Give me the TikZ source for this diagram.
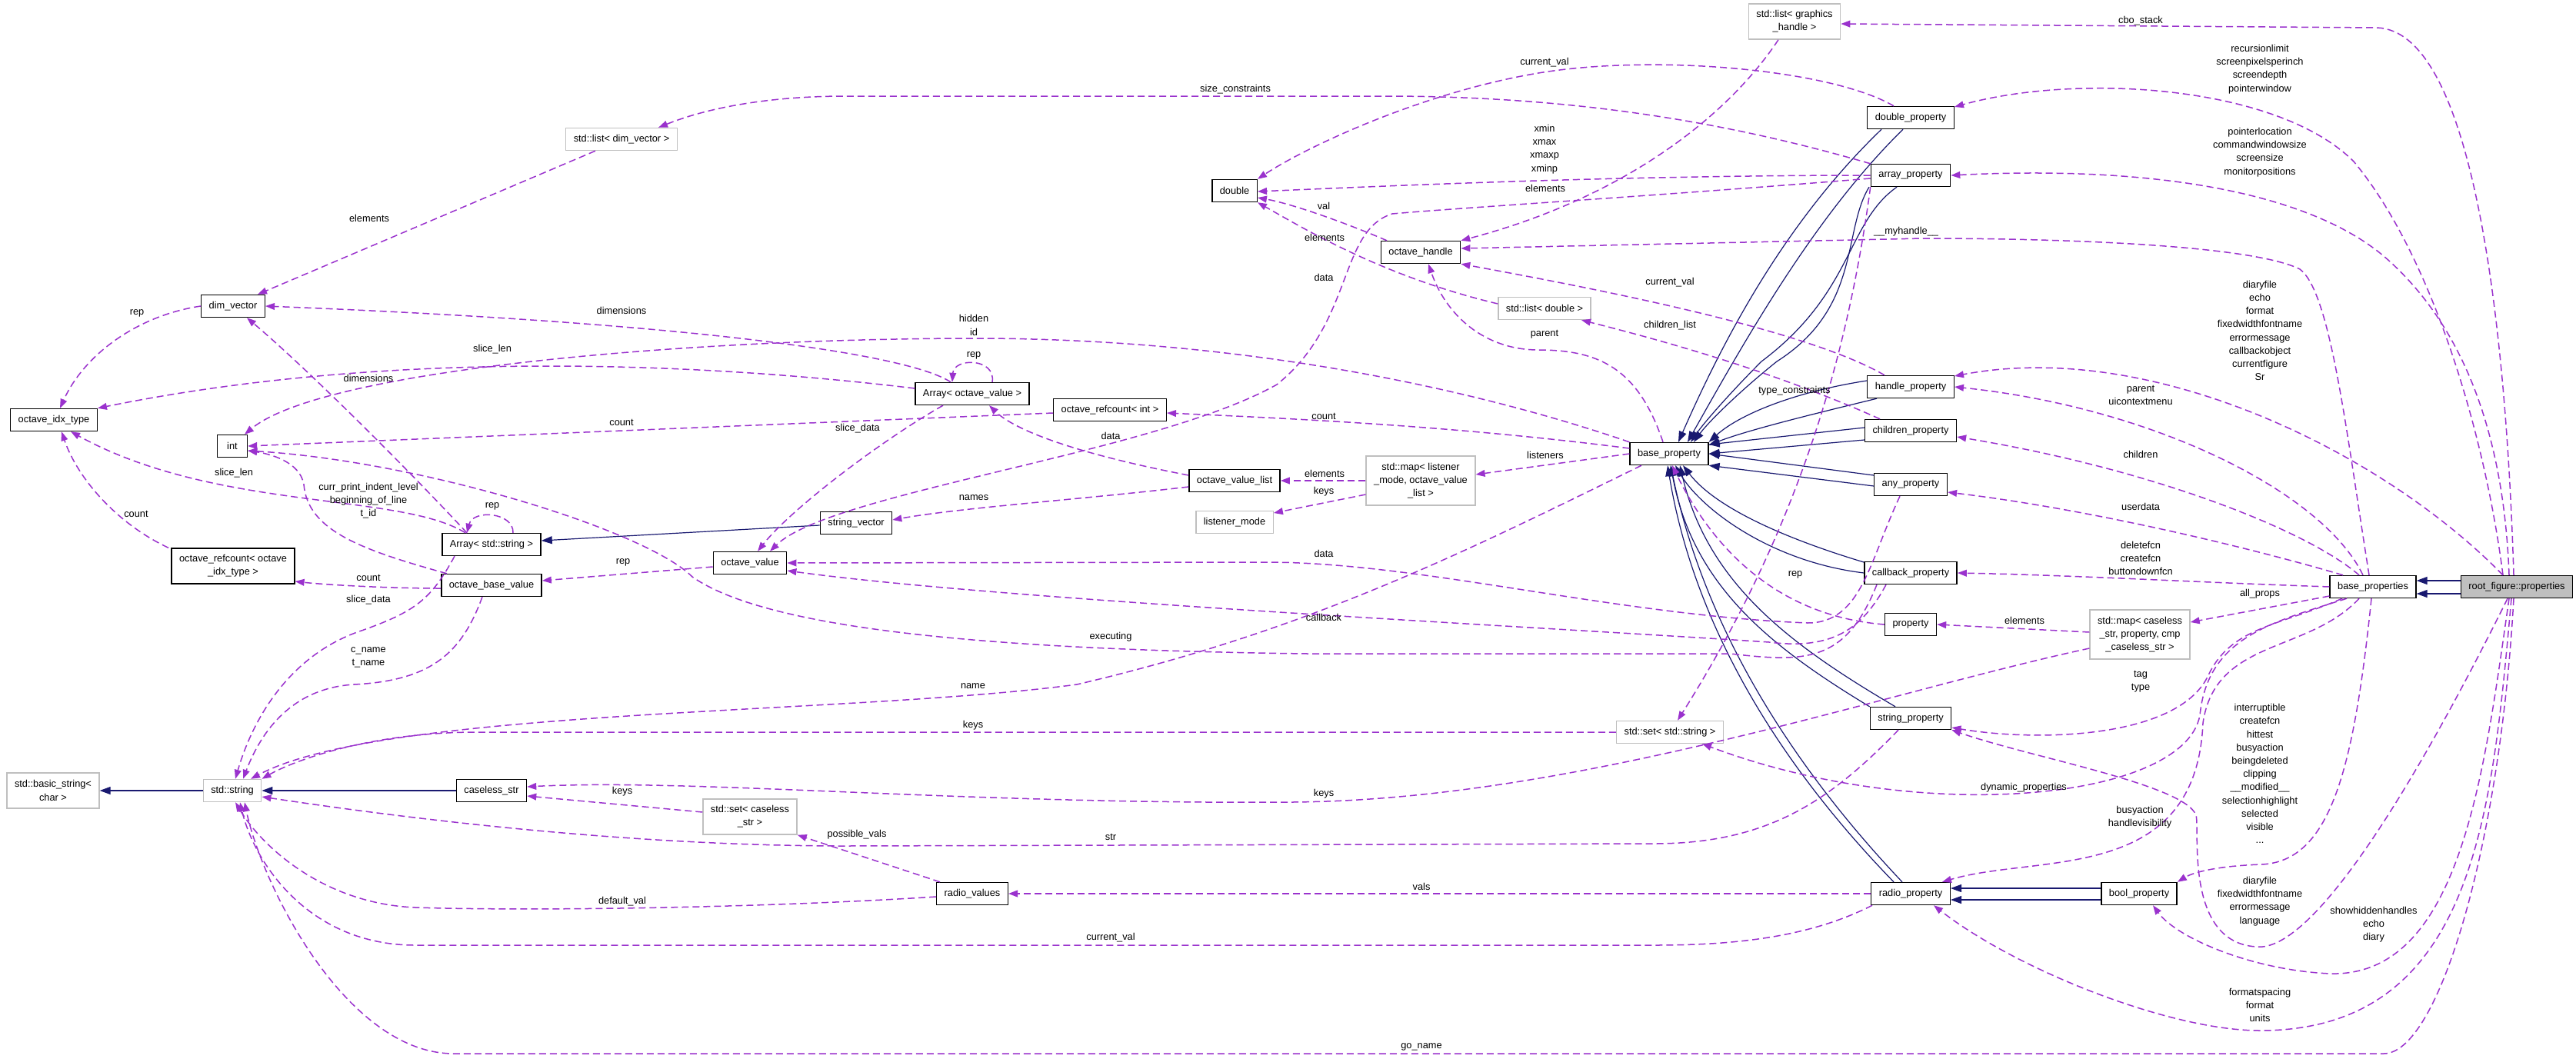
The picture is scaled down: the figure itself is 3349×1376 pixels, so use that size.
\documentclass[tikz,border=0pt]{standalone}
\usepackage{fontspec}
\setmainfont{Liberation Sans}
\usetikzlibrary{arrows.meta}
\definecolor{memcol}{HTML}{9A32CD}
\definecolor{inhcol}{HTML}{191970}
\definecolor{extcol}{HTML}{BFBFBF}
\newcommand{\dfont}{\fontsize{6.4}{8.6}\selectfont}
\tikzset{
  cls/.style={draw,line width=0.7pt,fill=white,inner xsep=5pt,inner ysep=1pt,minimum height=14.5pt,align=center},
  ext/.style={cls,draw=extcol},
  rootcls/.style={cls,fill=extcol},
  member/.style={memcol,line width=0.75pt,dash pattern=on 4.5pt off 2.5pt,-{Triangle[length=6pt,width=4.4pt]}},
  inherit/.style={inhcol,line width=0.6pt,-{Triangle[length=7pt,width=5pt]}},
  lbl/.style={inner sep=0pt,align=center},
  every node/.style={font=\dfont}
}
\begin{document}
\begin{tikzpicture}[x=0.5pt,y=-0.5pt]
\useasboundingbox (0,0) rectangle (3349,1376);

% classes
\node[ext,minimum height=23pt] (glist) at (2333,28) {std::list< graphics\\\_handle >};
\node[cls] (dblprop) at (2484,153) {double\_property};
\node[cls] (arrprop) at (2484,228) {array\_property};
\node[ext] (dimlist) at (808,181) {std::list< dim\_vector >};
\node[cls] (dbl) at (1605,248) {double};
\node[cls] (ohandle) at (1847,328) {octave\_handle};
\node[ext] (dbllist) at (2008,401) {std::list< double >};
\node[cls] (dimv) at (303,398) {dim\_vector};
\node[cls] (idx) at (70,546) {octave\_idx\_type};
\node[cls,minimum width=19.5pt] (intt) at (302,580) {int};
\node[cls] (arrov) at (1264,512) {Array< octave\_value >};
\node[cls] (rcint) at (1443,533) {octave\_refcount< int >};
\node[cls] (ovlist) at (1605,625) {octave\_value\_list};
\node[ext] (lmode) at (1605,679) {listener\_mode};
\node[cls] (svec) at (1113,680) {string\_vector};
\node[cls] (oval) at (975,732) {octave\_value};
\node[cls] (arrstr) at (639,708) {Array< std::string >};
\node[cls,minimum height=23pt] (rcidx) at (303,736) {octave\_refcount< octave\\\_idx\_type >};
\node[cls] (obv) at (639,761) {octave\_base\_value};
\node[cls] (bprop) at (2170,590) {base\_property};
\node[ext,minimum height=32pt] (lmap) at (1847,625) {std::map< listener\\\_mode, octave\_value\\\_list >};
\node[cls] (hprop) at (2484,503) {handle\_property};
\node[cls] (cprop) at (2484,560) {children\_property};
\node[cls] (aprop) at (2484,630) {any\_property};
\node[cls] (cbprop) at (2484,745) {callback\_property};
\node[cls] (prop) at (2484,812) {property};
\node[cls] (bprops) at (3085,763) {base\_properties};
\node[rootcls] (root) at (3272,763) {root\_figure::properties};
\node[ext,minimum height=32pt] (pmap) at (2782,825) {std::map< caseless\\\_str, property, cmp\\\_caseless\_str >};
\node[cls] (sprop) at (2484,934) {string\_property};
\node[ext] (sset) at (2171,952) {std::set< std::string >};
\node[cls] (rprop) at (2484,1162) {radio\_property};
\node[cls] (boolp) at (2781,1162) {bool\_property};
\node[ext,minimum height=23pt] (bstr) at (69,1028) {std::basic\_string<\\char >};
\node[ext] (str) at (302,1028) {std::string};
\node[cls] (cstr) at (639,1028) {caseless\_str};
\node[ext,minimum height=23pt] (cset) at (975,1062) {std::set< caseless\\\_str >};
\node[cls] (rvals) at (1264,1162) {radio\_values};

% inheritance
\draw[inherit] ([yshift=4pt]root.west) -- ([yshift=4pt]bprops.east);
\draw[inherit] ([yshift=-4.5pt]root.west) -- ([yshift=-4.5pt]bprops.east);
\draw[inherit] (str.west) -- (bstr.east);
\draw[inherit] (cstr.west) -- (str.east);
\draw[inherit] ([yshift=-1.5pt]svec.west) -- ([yshift=2.5pt]arrstr.east);
\draw[inherit] ([yshift=3.5pt]boolp.west) -- ([yshift=3.5pt]rprop.east);
\draw[inherit] ([yshift=-4pt]boolp.west) -- ([yshift=-4pt]rprop.east);
\draw[inherit] ([xshift=-19pt]dblprop.south) .. controls (2330,280) and (2250,420) .. ([xshift=6pt]bprop.north);
\draw[inherit] ([xshift=-5pt]dblprop.south) .. controls (2360,280) and (2270,440) .. ([xshift=12pt]bprop.north);
\draw[inherit] ([xshift=-27pt]arrprop.south) .. controls (2395,300) and (2420,400) .. (2310,470) .. controls (2260,510) and (2220,550) .. ([xshift=16pt]bprop.north);
\draw[inherit] ([xshift=-9pt]arrprop.south) .. controls (2400,290) and (2410,380) .. (2290,470) .. controls (2250,510) and (2215,550) .. ([xshift=14pt]bprop.north);
\draw[inherit] ([yshift=4pt]hprop.west) .. controls (2330,510) and (2260,540) .. (bprop.north east);
\draw[inherit] ([xshift=-22pt]hprop.south) .. controls (2350,540) and (2270,560) .. ([yshift=-2pt]bprop.north east);
\draw[inherit] ([yshift=2pt]cprop.west) -- ([yshift=6pt]bprop.east);
\draw[inherit] ([yshift=-6pt]cprop.west) -- (bprop.east);
\draw[inherit] ([yshift=6pt]aprop.west) -- (bprop.east);
\draw[inherit] ([yshift=-1pt]aprop.west) -- (bprop.south east);
\draw[inherit] ([yshift=7pt]cbprop.west) .. controls (2320,700) and (2230,660) .. ([xshift=9pt]bprop.south);
\draw[inherit] (cbprop.west) .. controls (2300,730) and (2210,660) .. ([xshift=4pt]bprop.south);
\draw[inherit] (sprop.north west) .. controls (2300,840) and (2200,760) .. ([xshift=1pt]bprop.south);
\draw[inherit] ([xshift=-10pt]sprop.north) .. controls (2330,840) and (2220,760) .. ([xshift=7pt]bprop.south);
\draw[inherit] ([xshift=-11pt]rprop.north) .. controls (2300,980) and (2200,800) .. ([xshift=-1pt]bprop.south);
\draw[inherit] ([xshift=-5.5pt]rprop.north) .. controls (2315,980) and (2212,800) .. ([xshift=1pt]bprop.south);

% root_figure::properties members
\draw[member] ([xshift=-2pt]root.north) .. controls (3258,420) and (3215,40) .. (3090,36) -- ([yshift=-1.5pt]glist.east);
\draw[member] ([xshift=-9pt]root.north) .. controls (3230,560) and (3160,330) .. (3060,210) .. controls (2960,110) and (2700,95) .. ([yshift=7pt]dblprop.east);
\draw[member] ([xshift=-5pt]root.north) .. controls (3255,560) and (3200,420) .. (3099,333) .. controls (3000,250) and (2800,215) .. (arrprop.east);
\draw[member] ([xshift=-9pt]root.north) .. controls (3100,590) and (2800,440) .. ([yshift=7pt]hprop.east);
\draw[member] ([xshift=-6pt]root.south) .. controls (3150,1000) and (3010,1240) .. (2933,1231) .. controls (2840,1225) and (2860,1080) .. (2855,1060) .. controls (2840,1020) and (2640,985) .. (sprop.south east);
\draw[member] ([xshift=-5pt]root.south) .. controls (3230,1000) and (3200,1270) .. (3030,1266) .. controls (2930,1262) and (2830,1220) .. ([xshift=9pt]boolp.south);
\draw[member] ([xshift=-3.5pt]root.south) .. controls (3240,1050) and (3220,1340) .. (2938,1340) .. controls (2820,1340) and (2620,1260) .. ([xshift=-11pt]rprop.south east);
\draw[member] ([xshift=-2pt]root.south) .. controls (3250,1100) and (3170,1370) .. (3099,1370) -- (590,1370) .. controls (450,1370) and (340,1150) .. ([xshift=8pt]str.south);

% base_properties members
\draw[member] ([xshift=-2.5pt]bprops.north) .. controls (3050,560) and (3030,380) .. (2990,350) .. controls (2930,320) and (2700,310) .. (2500,310) -- ([yshift=2.5pt]ohandle.east);
\draw[member] ([xshift=-6.5pt]bprops.north) .. controls (3020,640) and (2800,530) .. (hprop.east);
\draw[member] ([xshift=-9pt]bprops.north) .. controls (3000,690) and (2800,610) .. ([yshift=-4pt]cprop.east);
\draw[member] ([xshift=-19.5pt]bprops.north) .. controls (2900,705) and (2700,660) .. ([yshift=-5pt]aprop.east);
\draw[member] (bprops.west) .. controls (2850,757) and (2700,748) .. (cbprop.east);
\draw[member] ([yshift=-6pt]bprops.west) -- ([yshift=8pt]pmap.east);
\draw[member] ([xshift=-20pt]bprops.south) .. controls (2960,815) and (2900,815) .. (2870,880) .. controls (2830,960) and (2650,965) .. ([yshift=-6pt]sprop.east);
\draw[member] ([xshift=-17pt]bprops.south) .. controls (2950,810) and (2870,830) .. (2860,930) .. controls (2840,1040) and (2500,1075) .. ([xshift=21pt]sset.south);
\draw[member] ([xshift=-9pt]bprops.south) .. controls (3000,850) and (2880,830) .. (2864,940) .. controls (2855,1150) and (2650,1110) .. ([xshift=-5.5pt]rprop.north east);
\draw[member] ([xshift=-1pt]bprops.south) .. controls (3060,1000) and (3030,1120) .. (2940,1124) .. controls (2880,1126) and (2850,1135) .. (boolp.north east);

% property map
\draw[member] ([yshift=1.5pt]pmap.west) -- (prop.east);
\draw[member] ([yshift=-9pt]pmap.west) .. controls (2450,900) and (2050,1040) .. (1680,1043) .. controls (1250,1046) and (900,1012) .. ([yshift=2.5pt]cstr.east);

% base_property members
\draw[member] ([xshift=-4pt]bprop.north) .. controls (2130,480) and (2080,455) .. (2000,455) .. controls (1930,455) and (1880,410) .. ([xshift=5pt]ohandle.south);
\draw[member] (bprop.west) -- ([yshift=4pt]lmap.east);
\draw[member] ([yshift=3.5pt]bprop.west) .. controls (1900,555) and (1700,545) .. ([yshift=-2pt]rcint.east);
\draw[member] (bprop.north west) .. controls (1900,500) and (1600,440) .. (1268,440) .. controls (900,440) and (420,480) .. ([xshift=8pt]intt.north);
\draw[member] ([xshift=-18pt]bprop.south) .. controls (1900,720) and (1700,820) .. (1400,890) .. controls (1100,930) and (500,920) .. ([xshift=12pt]str.north);
\draw[member] (prop.west) .. controls (2300,800) and (2220,700) .. ([xshift=2pt]bprop.south);

% listener map
\draw[member] (lmap.west) -- (ovlist.east);
\draw[member] ([yshift=-9pt]lmap.west) -- ([yshift=6pt]lmode.east);

% property classes
\draw[member] (arrprop.south west) .. controls (2400,480) and (2330,700) .. ([xshift=5pt]sset.north);
\draw[member] (arrprop.west) .. controls (2100,228) and (1800,242) .. ([yshift=-0.5pt]dbl.east);
\draw[member] (arrprop.north west) .. controls (2250,160) and (2050,125) .. (1800,125) -- (1100,125) .. controls (1000,125) and (920,140) .. ([xshift=24pt]dimlist.north);
\draw[member] ([yshift=-2pt]arrprop.west) .. controls (2150,255) and (1900,270) .. (1810,278) .. controls (1740,300) and (1760,420) .. (1660,500) .. controls (1500,590) and (1080,640) .. ([xshift=13pt]oval.north);
\draw[member] ([xshift=-11pt]dblprop.north) .. controls (2380,90) and (2150,70) .. (2000,95) .. controls (1850,120) and (1700,190) .. (dbl.north east);
\draw[member] ([xshift=-17pt]hprop.north) .. controls (2350,430) and (2100,380) .. (ohandle.south east);
\draw[member] ([xshift=-20pt]cprop.north) .. controls (2300,480) and (2150,440) .. ([xshift=24pt]dbllist.south);
\draw[member] ([xshift=-7pt]aprop.south) .. controls (2430,730) and (2420,810) .. (2350,810) .. controls (2100,800) and (1850,732) .. (1650,731) -- (oval.east);
\draw[member] ([xshift=-16pt]cbprop.south) .. controls (2420,820) and (2380,845) .. (2300,835) .. controls (2000,815) and (1300,780) .. ([yshift=-5pt]oval.east);
\draw[member] ([xshift=-22pt]cbprop.south) .. controls (2400,860) and (2350,862) .. (2250,850) -- (1700,850) .. controls (1300,845) and (1000,820) .. (900,750) .. controls (840,690) and (550,600) .. ([yshift=-3pt]intt.east);
\draw[member] ([xshift=-8pt]sprop.south) .. controls (2380,1040) and (2300,1097) .. (2150,1097) -- (1100,1100) .. controls (800,1100) and (500,1060) .. ([yshift=-4pt]str.east);
\draw[member] ([xshift=-25pt]rprop.south) .. controls (2350,1220) and (2250,1229) .. (2150,1229) -- (540,1229) .. controls (400,1229) and (330,1120) .. ([xshift=5pt]str.south);
\draw[member] (rprop.west) -- (rvals.east);

% handles and doubles
\draw[member] ([xshift=-10.5pt]glist.south) .. controls (2240,160) and (2100,260) .. (ohandle.north east);
\draw[member] ([xshift=-22pt]ohandle.north) .. controls (1750,290) and (1680,265) .. ([yshift=-4.5pt]dbl.east);
\draw[member] ([yshift=3pt]dbllist.west) .. controls (1800,360) and (1700,300) .. (dbl.south east);
\draw[member] ([yshift=-2pt]rcint.west) -- (intt.east);

% octave_value family
\draw[member] ([yshift=3.5pt]ovlist.west) .. controls (1400,590) and (1320,560) .. ([xshift=11pt]arrov.south);
\draw[member] ([yshift=-4pt]ovlist.west) .. controls (1400,650) and (1250,660) .. ([yshift=2pt]svec.east);
\draw[member] ([xshift=-14pt]arrov.north) .. controls (1180,460) and (900,420) .. (dimv.east);
\draw[member] ([xshift=13pt]arrov.north) .. controls (1295,465) and (1240,465) .. ([xshift=-13pt]arrov.north);
\draw[member] ([yshift=3.5pt]arrov.west) .. controls (900,470) and (500,455) .. (idx.north east);
\draw[member] ([xshift=-19pt]arrov.south) .. controls (1150,570) and (1030,660) .. ([xshift=5pt]oval.north);
\draw[member] ([yshift=-2.5pt]oval.west) -- ([yshift=3pt]obv.east);
\draw[member] ([xshift=14pt]arrstr.north) .. controls (668,666) and (615,662) .. ([xshift=-16pt]arrstr.north);
\draw[member] ([xshift=-16pt]arrstr.north) .. controls (530,610) and (400,480) .. ([xshift=9pt]dimv.south);
\draw[member] ([xshift=-17pt]arrstr.north) .. controls (520,640) and (280,665) .. ([xshift=11pt]idx.south);
\draw[member] ([xshift=-24pt]arrstr.south) .. controls (560,780) and (540,795) .. (470,820) .. controls (380,850) and (330,930) .. ([xshift=2pt]str.north);
\draw[member] ([xshift=-6pt]obv.south) .. controls (600,850) and (560,885) .. (460,890) .. controls (380,895) and (340,950) .. ([xshift=7pt]str.north);
\draw[member] ([yshift=-2pt]obv.west) .. controls (500,765) and (420,760) .. ([yshift=-10pt]rcidx.east);
\draw[member] ([xshift=-29pt]obv.north) .. controls (470,715) and (400,690) .. (395,630) .. controls (390,600) and (350,590) .. ([yshift=-3pt]intt.east);
\draw[member] ([xshift=-42pt]rcidx.north) .. controls (150,680) and (100,620) .. ([xshift=5pt]idx.south);
\draw[member] (dimv.west) .. controls (180,410) and (110,460) .. ([xshift=4pt]idx.north);
\draw[member] ([xshift=-17pt]dimlist.south) -- ([xshift=16pt]dimv.north);

% strings
\draw[member] (sset.west) -- (620,952) .. controls (480,952) and (380,990) .. (str.north east);
\draw[member] ([yshift=3pt]cset.west) -- ([yshift=-3.5pt]cstr.east);
\draw[member] ([xshift=-21pt]rvals.north) -- (cset.south east);
\draw[member] ([yshift=-2pt]rvals.west) .. controls (1000,1180) and (700,1185) .. (540,1180) .. controls (420,1175) and (340,1100) .. ([xshift=2pt]str.south);

% member labels
\node[lbl] (lcbo) at (2783,27) {cbo\_stack};
\node[lbl] (lrecur) at (2938,90) {recursionlimit\\screenpixelsperinch\\screendepth\\pointerwindow};
\node[lbl] (lpointer) at (2938,198) {pointerlocation\\commandwindowsize\\screensize\\monitorpositions};
\node[lbl] (lmyh) at (2478,301) {\_\_myhandle\_\_};
\node[lbl] (ldiary) at (2938,430) {diaryfile\\echo\\format\\fixedwidthfontname\\errormessage\\callbackobject\\currentfigure\\Sr};
\node[lbl] (lparent) at (2783,514) {parent\\uicontextmenu};
\node[lbl] (lchildren) at (2783,591) {children};
\node[lbl] (luser) at (2783,659) {userdata};
\node[lbl] (lfcn) at (2783,726) {deletefcn\\createfcn\\buttondownfcn};
\node[lbl] (lall) at (2938,772) {all\_props};
\node[lbl] (lpelem) at (2632,807) {elements};
\node[lbl] (ltag) at (2783,886) {tag\\type};
\node[lbl] (lbool) at (2938,1006) {interruptible\\createfcn\\hittest\\busyaction\\beingdeleted\\clipping\\\_\_modified\_\_\\selectionhighlight\\selected\\visible\\...};
\node[lbl] (ldyn) at (2631,1024) {dynamic\_properties};
\node[lbl] (lbusy) at (2782,1063) {busyaction\\handlevisibility};
\node[lbl] (lstrs) at (2938,1172) {diaryfile\\fixedwidthfontname\\errormessage\\language};
\node[lbl] (lshow) at (3086,1202) {showhiddenhandles\\echo\\diary};
\node[lbl] (lfmt) at (2938,1307) {formatspacing\\format\\units};
\node[lbl] (lcur1) at (2008,81) {current\_val};
\node[lbl] (lsize) at (1606,116) {size\_constraints};
\node[lbl] (lxmin) at (2008,194) {xmin\\xmax\\xmaxp\\xminp};
\node[lbl] (lgelem) at (2009,245) {elements};
\node[lbl] (lval) at (1721,268) {val};
\node[lbl] (ldelem) at (1722,309) {elements};
\node[lbl] (ldata1) at (1721,361) {data};
\node[lbl] (lcur2) at (2171,367) {current\_val};
\node[lbl] (lclist) at (2171,423) {children\_list};
\node[lbl] (lpar) at (2008,435) {parent};
\node[lbl] (ltype) at (2333,508) {type\_constraints};
\node[lbl] (lcount1) at (1721,541) {count};
\node[lbl] (llist) at (2009,592) {listeners};
\node[lbl] (lmelem) at (1722,616) {elements};
\node[lbl] (lmkeys) at (1721,639) {keys};
\node[lbl] (ldata2) at (1721,720) {data};
\node[lbl] (lrep1) at (2334,747) {rep};
\node[lbl] (lcb) at (1721,803) {callback};
\node[lbl] (lkeys1) at (1721,1032) {keys};
\node[lbl] (lvals) at (1848,1153) {vals};
\node[lbl] (lgo) at (1848,1361) {go\_name};
\node[lbl] (lhid) at (1266,423) {hidden\\id};
\node[lbl] (lrep2) at (1266,462) {rep};
\node[lbl] (lslice1) at (1115,557) {slice\_data};
\node[lbl] (ldata3) at (1444,567) {data};
\node[lbl] (lnames) at (1266,647) {names};
\node[lbl] (lexec) at (1444,828) {executing};
\node[lbl] (lname) at (1265,892) {name};
\node[lbl] (lkeys2) at (1265,943) {keys};
\node[lbl] (lposs) at (1114,1085) {possible\_vals};
\node[lbl] (lstr) at (1444,1088) {str};
\node[lbl] (lcur3) at (1444,1219) {current\_val};
\node[lbl] (lelem) at (480,284) {elements};
\node[lbl] (lrep3) at (178,407) {rep};
\node[lbl] (ldim1) at (808,404) {dimensions};
\node[lbl] (llen1) at (640,454) {slice\_len};
\node[lbl] (ldim2) at (479,492) {dimensions};
\node[lbl] (lcount2) at (808,549) {count};
\node[lbl] (llen2) at (304,615) {slice\_len};
\node[lbl] (lcurr) at (479,651) {curr\_print\_indent\_level\\beginning\_of\_line\\t\_id};
\node[lbl] (lrep4) at (640,658) {rep};
\node[lbl] (lcount3) at (177,668) {count};
\node[lbl] (lrep5) at (810,731) {rep};
\node[lbl] (lcount4) at (479,751) {count};
\node[lbl] (lslice2) at (479,780) {slice\_data};
\node[lbl] (lcname) at (479,855) {c\_name\\t\_name};
\node[lbl] (lkeys3) at (809,1029) {keys};
\node[lbl] (ldef) at (809,1172) {default\_val};
\end{tikzpicture}
\end{document}
